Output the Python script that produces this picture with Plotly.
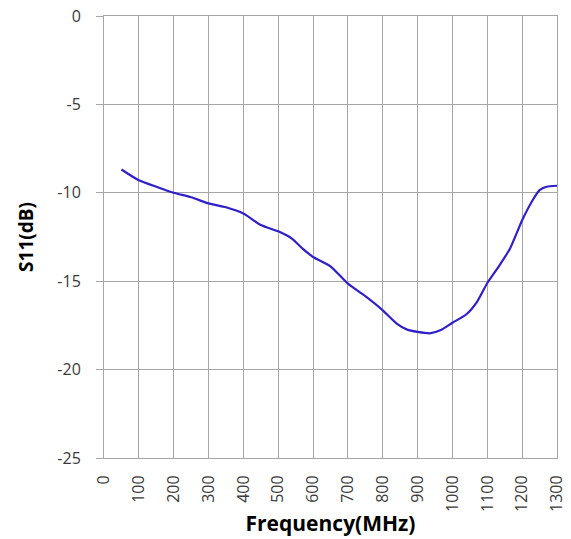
import plotly.graph_objects as go

freq_mhz = [50, 100, 150, 200, 250, 300, 350, 400, 450, 500, 540, 570, 600, 650,
            700, 750, 800, 840, 870, 900, 935, 965, 1000, 1040, 1070, 1100, 1135,
            1165, 1200, 1230, 1250, 1270, 1300]
s11_db = [-8.68, -9.29, -9.66, -10.0, -10.25, -10.6, -10.82, -11.17, -11.82, -12.18,
          -12.6, -13.16, -13.63, -14.16, -15.14, -15.85, -16.65, -17.4, -17.74, -17.87,
          -17.95, -17.78, -17.35, -16.87, -16.18, -15.1, -14.1, -13.16, -11.55, -10.42,
          -9.85, -9.66, -9.6]
x_ticks = list(range(0, 1301, 100))
y_ticks = [0, -5, -10, -15, -20, -25]

GRID = "#A6A6A6"
FONT = "Open Sans"
TICK_COLOR = "#3A3A3A"

fig = go.Figure()
fig.add_trace(go.Scatter(
    x=freq_mhz, y=s11_db, mode="lines",
    line=dict(color="#3020C8", width=2.2, shape="spline", smoothing=0.6),
    showlegend=False, hoverinfo="skip",
))

fig.update_layout(
    width=571, height=539,
    margin=dict(l=104, r=14, t=16, b=81, autoexpand=False),
    paper_bgcolor="white", plot_bgcolor="white",
    font=dict(family=FONT, color=TICK_COLOR),
)
fig.update_xaxes(
    range=[0, 1300], tickvals=x_ticks, ticktext=[str(v) for v in x_ticks],
    tickangle=-90, tickfont=dict(size=16, color=TICK_COLOR, family=FONT),
    showgrid=True, gridcolor=GRID, gridwidth=1, zeroline=False,
    showline=True, linecolor=GRID, linewidth=1, mirror=True,
    ticks="", ticklabelstandoff=10, automargin=False,
    title=dict(text="<b>Frequency(MHz)</b>", font=dict(size=21, color="#000000", family=FONT),
               standoff=5),
)
fig.update_yaxes(
    range=[-25, 0], tickvals=y_ticks, ticktext=[str(v) for v in y_ticks],
    tickfont=dict(size=16, color=TICK_COLOR, family=FONT),
    showgrid=True, gridcolor=GRID, gridwidth=1, zeroline=False,
    showline=True, linecolor=GRID, linewidth=1, mirror=True,
    ticks="outside", ticklen=7, tickcolor=GRID, ticklabelstandoff=12, automargin=False,
    title=dict(text="<b>S11(dB)</b>", font=dict(size=19, color="#000000", family=FONT),
               standoff=18),
)

fig.write_html("out.html")
